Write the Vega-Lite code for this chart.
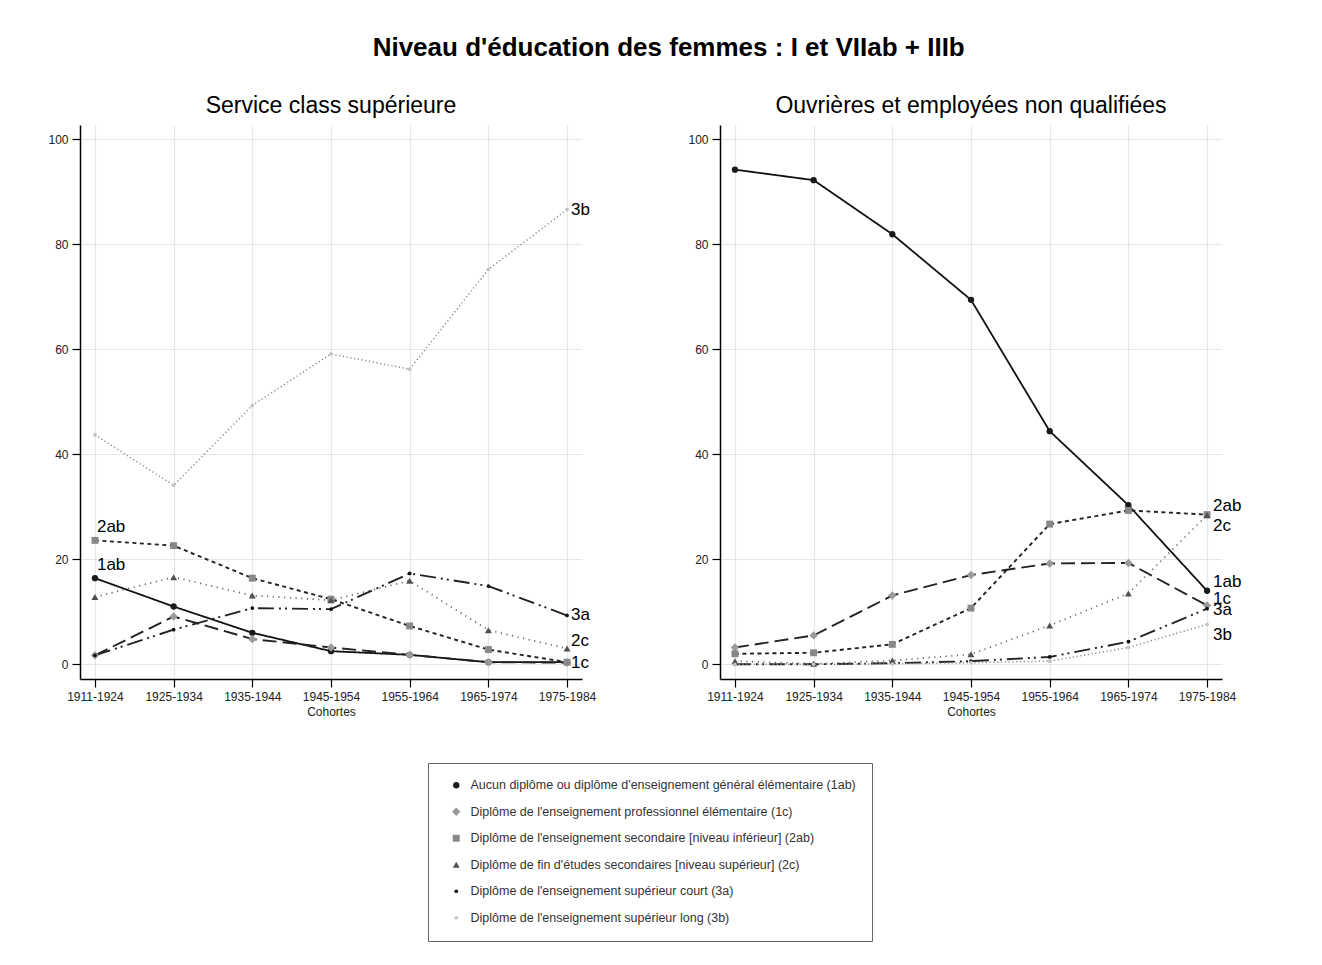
{
  "$schema": "https://vega.github.io/schema/vega-lite/v6.json",
  "autosize": {"type": "pad"},
  "padding": {"left": 47, "top": 35, "right": 10, "bottom": 10},
  "background": "#ffffff",
  "title": {"text": "Niveau d'éducation des femmes : I et VIIab + IIIb", "fontSize": 26, "font": "Liberation Sans", "fontWeight": "bold", "color": "#000", "anchor": "middle", "offset": 34, "dx": 24},
  "datasets": {
    "series": [
      {"code": "1ab", "name": "Aucun diplôme ou diplôme d'enseignement général élémentaire (1ab)"},
      {"code": "1c", "name": "Diplôme de l'enseignement professionnel élémentaire (1c)"},
      {"code": "2ab", "name": "Diplôme de l'enseignement secondaire [niveau inférieur] (2ab)"},
      {"code": "2c", "name": "Diplôme de fin d'études secondaires [niveau supérieur] (2c)"},
      {"code": "3a", "name": "Diplôme de l'enseignement supérieur court (3a)"},
      {"code": "3b", "name": "Diplôme de l'enseignement supérieur long (3b)"}
    ]
  },
  "data": {"values": [
    {"panel": "Service class supérieure", "code": "1ab", "cohort": "1911-1924", "value": 16.4},
    {"panel": "Service class supérieure", "code": "1ab", "cohort": "1925-1934", "value": 11.0},
    {"panel": "Service class supérieure", "code": "1ab", "cohort": "1935-1944", "value": 6.0},
    {"panel": "Service class supérieure", "code": "1ab", "cohort": "1945-1954", "value": 2.5},
    {"panel": "Service class supérieure", "code": "1ab", "cohort": "1955-1964", "value": 1.8},
    {"panel": "Service class supérieure", "code": "1ab", "cohort": "1965-1974", "value": 0.4},
    {"panel": "Service class supérieure", "code": "1ab", "cohort": "1975-1984", "value": 0.4},
    {"panel": "Service class supérieure", "code": "1c", "cohort": "1911-1924", "value": 1.7},
    {"panel": "Service class supérieure", "code": "1c", "cohort": "1925-1934", "value": 9.1},
    {"panel": "Service class supérieure", "code": "1c", "cohort": "1935-1944", "value": 4.8},
    {"panel": "Service class supérieure", "code": "1c", "cohort": "1945-1954", "value": 3.2},
    {"panel": "Service class supérieure", "code": "1c", "cohort": "1955-1964", "value": 1.8},
    {"panel": "Service class supérieure", "code": "1c", "cohort": "1965-1974", "value": 0.4},
    {"panel": "Service class supérieure", "code": "1c", "cohort": "1975-1984", "value": 0.3},
    {"panel": "Service class supérieure", "code": "2ab", "cohort": "1911-1924", "value": 23.6},
    {"panel": "Service class supérieure", "code": "2ab", "cohort": "1925-1934", "value": 22.6},
    {"panel": "Service class supérieure", "code": "2ab", "cohort": "1935-1944", "value": 16.4},
    {"panel": "Service class supérieure", "code": "2ab", "cohort": "1945-1954", "value": 12.4},
    {"panel": "Service class supérieure", "code": "2ab", "cohort": "1955-1964", "value": 7.3},
    {"panel": "Service class supérieure", "code": "2ab", "cohort": "1965-1974", "value": 2.8},
    {"panel": "Service class supérieure", "code": "2ab", "cohort": "1975-1984", "value": 0.4},
    {"panel": "Service class supérieure", "code": "2c", "cohort": "1911-1924", "value": 12.8},
    {"panel": "Service class supérieure", "code": "2c", "cohort": "1925-1934", "value": 16.6},
    {"panel": "Service class supérieure", "code": "2c", "cohort": "1935-1944", "value": 13.1},
    {"panel": "Service class supérieure", "code": "2c", "cohort": "1945-1954", "value": 12.2},
    {"panel": "Service class supérieure", "code": "2c", "cohort": "1955-1964", "value": 15.9},
    {"panel": "Service class supérieure", "code": "2c", "cohort": "1965-1974", "value": 6.5},
    {"panel": "Service class supérieure", "code": "2c", "cohort": "1975-1984", "value": 3.0},
    {"panel": "Service class supérieure", "code": "3a", "cohort": "1911-1924", "value": 1.7},
    {"panel": "Service class supérieure", "code": "3a", "cohort": "1925-1934", "value": 6.6},
    {"panel": "Service class supérieure", "code": "3a", "cohort": "1935-1944", "value": 10.7},
    {"panel": "Service class supérieure", "code": "3a", "cohort": "1945-1954", "value": 10.5},
    {"panel": "Service class supérieure", "code": "3a", "cohort": "1955-1964", "value": 17.3},
    {"panel": "Service class supérieure", "code": "3a", "cohort": "1965-1974", "value": 14.9},
    {"panel": "Service class supérieure", "code": "3a", "cohort": "1975-1984", "value": 9.3},
    {"panel": "Service class supérieure", "code": "3b", "cohort": "1911-1924", "value": 43.7},
    {"panel": "Service class supérieure", "code": "3b", "cohort": "1925-1934", "value": 34.1},
    {"panel": "Service class supérieure", "code": "3b", "cohort": "1935-1944", "value": 49.3},
    {"panel": "Service class supérieure", "code": "3b", "cohort": "1945-1954", "value": 59.1},
    {"panel": "Service class supérieure", "code": "3b", "cohort": "1955-1964", "value": 56.2},
    {"panel": "Service class supérieure", "code": "3b", "cohort": "1965-1974", "value": 75.2},
    {"panel": "Service class supérieure", "code": "3b", "cohort": "1975-1984", "value": 86.6},
    {"panel": "Ouvrières et employées non qualifiées", "code": "1ab", "cohort": "1911-1924", "value": 94.2},
    {"panel": "Ouvrières et employées non qualifiées", "code": "1ab", "cohort": "1925-1934", "value": 92.2},
    {"panel": "Ouvrières et employées non qualifiées", "code": "1ab", "cohort": "1935-1944", "value": 81.9},
    {"panel": "Ouvrières et employées non qualifiées", "code": "1ab", "cohort": "1945-1954", "value": 69.4},
    {"panel": "Ouvrières et employées non qualifiées", "code": "1ab", "cohort": "1955-1964", "value": 44.4},
    {"panel": "Ouvrières et employées non qualifiées", "code": "1ab", "cohort": "1965-1974", "value": 30.3},
    {"panel": "Ouvrières et employées non qualifiées", "code": "1ab", "cohort": "1975-1984", "value": 14.0},
    {"panel": "Ouvrières et employées non qualifiées", "code": "1c", "cohort": "1911-1924", "value": 3.2},
    {"panel": "Ouvrières et employées non qualifiées", "code": "1c", "cohort": "1925-1934", "value": 5.5},
    {"panel": "Ouvrières et employées non qualifiées", "code": "1c", "cohort": "1935-1944", "value": 13.1},
    {"panel": "Ouvrières et employées non qualifiées", "code": "1c", "cohort": "1945-1954", "value": 17.0},
    {"panel": "Ouvrières et employées non qualifiées", "code": "1c", "cohort": "1955-1964", "value": 19.2},
    {"panel": "Ouvrières et employées non qualifiées", "code": "1c", "cohort": "1965-1974", "value": 19.3},
    {"panel": "Ouvrières et employées non qualifiées", "code": "1c", "cohort": "1975-1984", "value": 11.2},
    {"panel": "Ouvrières et employées non qualifiées", "code": "2ab", "cohort": "1911-1924", "value": 2.0},
    {"panel": "Ouvrières et employées non qualifiées", "code": "2ab", "cohort": "1925-1934", "value": 2.2},
    {"panel": "Ouvrières et employées non qualifiées", "code": "2ab", "cohort": "1935-1944", "value": 3.8},
    {"panel": "Ouvrières et employées non qualifiées", "code": "2ab", "cohort": "1945-1954", "value": 10.7},
    {"panel": "Ouvrières et employées non qualifiées", "code": "2ab", "cohort": "1955-1964", "value": 26.7},
    {"panel": "Ouvrières et employées non qualifiées", "code": "2ab", "cohort": "1965-1974", "value": 29.3},
    {"panel": "Ouvrières et employées non qualifiées", "code": "2ab", "cohort": "1975-1984", "value": 28.5},
    {"panel": "Ouvrières et employées non qualifiées", "code": "2c", "cohort": "1911-1924", "value": 0.6},
    {"panel": "Ouvrières et employées non qualifiées", "code": "2c", "cohort": "1925-1934", "value": 0.1},
    {"panel": "Ouvrières et employées non qualifiées", "code": "2c", "cohort": "1935-1944", "value": 0.7},
    {"panel": "Ouvrières et employées non qualifiées", "code": "2c", "cohort": "1945-1954", "value": 1.9},
    {"panel": "Ouvrières et employées non qualifiées", "code": "2c", "cohort": "1955-1964", "value": 7.4},
    {"panel": "Ouvrières et employées non qualifiées", "code": "2c", "cohort": "1965-1974", "value": 13.5},
    {"panel": "Ouvrières et employées non qualifiées", "code": "2c", "cohort": "1975-1984", "value": 28.4},
    {"panel": "Ouvrières et employées non qualifiées", "code": "3a", "cohort": "1911-1924", "value": 0.0},
    {"panel": "Ouvrières et employées non qualifiées", "code": "3a", "cohort": "1925-1934", "value": 0.0},
    {"panel": "Ouvrières et employées non qualifiées", "code": "3a", "cohort": "1935-1944", "value": 0.2},
    {"panel": "Ouvrières et employées non qualifiées", "code": "3a", "cohort": "1945-1954", "value": 0.6},
    {"panel": "Ouvrières et employées non qualifiées", "code": "3a", "cohort": "1955-1964", "value": 1.4},
    {"panel": "Ouvrières et employées non qualifiées", "code": "3a", "cohort": "1965-1974", "value": 4.3},
    {"panel": "Ouvrières et employées non qualifiées", "code": "3a", "cohort": "1975-1984", "value": 10.6},
    {"panel": "Ouvrières et employées non qualifiées", "code": "3b", "cohort": "1911-1924", "value": 0.0},
    {"panel": "Ouvrières et employées non qualifiées", "code": "3b", "cohort": "1925-1934", "value": 0.0},
    {"panel": "Ouvrières et employées non qualifiées", "code": "3b", "cohort": "1935-1944", "value": 0.1},
    {"panel": "Ouvrières et employées non qualifiées", "code": "3b", "cohort": "1945-1954", "value": 0.3},
    {"panel": "Ouvrières et employées non qualifiées", "code": "3b", "cohort": "1955-1964", "value": 0.6},
    {"panel": "Ouvrières et employées non qualifiées", "code": "3b", "cohort": "1965-1974", "value": 3.2},
    {"panel": "Ouvrières et employées non qualifiées", "code": "3b", "cohort": "1975-1984", "value": 7.6}
  ]},
  "transform": [
    {"lookup": "code", "from": {"data": {"name": "series"}, "key": "code", "fields": ["name"]}}
  ],
  "facet": {
    "column": {
      "field": "panel", "type": "nominal",
      "sort": ["Service class supérieure", "Ouvrières et employées non qualifiées"],
      "header": {"title": null, "labelFontSize": 23, "labelFont": "Liberation Sans", "labelColor": "#000", "labelPadding": 7}
    }
  },
  "spacing": 85,
  "resolve": {"axis": {"y": "independent", "x": "independent"}},
  "spec": {
    "width": 502,
    "height": 554,
    "encoding": {
      "x": {"field": "cohort", "type": "ordinal", "scale": {"type": "point", "padding": 0.19},
        "axis": {"title": "Cohortes", "labelAngle": 0, "grid": true}},
      "y": {"field": "value", "type": "quantitative", "scale": {"domain": [-2.8, 102.7], "nice": false, "zero": false},
        "axis": {"title": null, "values": [0, 20, 40, 60, 80, 100], "grid": true}}
    },
    "layer": [
      {
        "mark": {"type": "line"},
        "encoding": {
          "stroke": {"field": "code", "type": "nominal", "legend": null,
            "scale": {"domain": ["1ab", "1c", "2ab", "2c", "3a", "3b"],
              "range": ["#111111", "#222222", "#222222", "#666666", "#222222", "#8a8a8a"]}},
          "strokeDash": {"field": "code", "type": "nominal", "legend": null,
            "scale": {"domain": ["1ab", "1c", "2ab", "2c", "3a", "3b"],
              "range": [[1, 0], [14, 6], [4, 3.5], [1.2, 4.5], [16, 5, 2, 4, 2, 5], [1.2, 2.6]]}},
          "strokeWidth": {"field": "code", "type": "nominal", "legend": null,
            "scale": {"type": "ordinal", "domain": ["1ab", "1c", "2ab", "2c", "3a", "3b"],
              "range": [1.8, 1.9, 1.9, 1.7, 1.9, 1.5]}}
        }
      },
      {
        "mark": {"type": "point", "filled": true, "opacity": 1},
        "encoding": {
          "fill": {"field": "name", "type": "nominal",
            "scale": {"domain": [
              "Aucun diplôme ou diplôme d'enseignement général élémentaire (1ab)",
              "Diplôme de l'enseignement professionnel élémentaire (1c)",
              "Diplôme de l'enseignement secondaire [niveau inférieur] (2ab)",
              "Diplôme de fin d'études secondaires [niveau supérieur] (2c)",
              "Diplôme de l'enseignement supérieur court (3a)",
              "Diplôme de l'enseignement supérieur long (3b)"],
              "range": ["#1a1a1a", "#9a9a9a", "#888888", "#505050", "#111111", "#c4c4c4"]},
            "legend": {"title": null, "orient": "none", "legendX": 348, "legendY": 638, "direction": "vertical",
              "strokeColor": "#666", "fillColor": "#ffffff", "padding": 16,
              "labelFont": "Liberation Sans", "labelFontSize": 12.5, "labelColor": "#333", "labelLimit": 600,
              "rowPadding": 13.5, "symbolOffset": 6, "labelOffset": 8, "symbolStrokeWidth": 0}},
          "shape": {"field": "name", "type": "nominal",
            "scale": {"domain": [
              "Aucun diplôme ou diplôme d'enseignement général élémentaire (1ab)",
              "Diplôme de l'enseignement professionnel élémentaire (1c)",
              "Diplôme de l'enseignement secondaire [niveau inférieur] (2ab)",
              "Diplôme de fin d'études secondaires [niveau supérieur] (2c)",
              "Diplôme de l'enseignement supérieur court (3a)",
              "Diplôme de l'enseignement supérieur long (3b)"],
              "range": ["circle", "diamond", "square", "triangle-up", "circle", "circle"]},
            "legend": {"title": null, "orient": "none", "legendX": 348, "legendY": 638}},
          "size": {"field": "name", "type": "nominal",
            "scale": {"type": "ordinal", "domain": [
              "Aucun diplôme ou diplôme d'enseignement général élémentaire (1ab)",
              "Diplôme de l'enseignement professionnel élémentaire (1c)",
              "Diplôme de l'enseignement secondaire [niveau inférieur] (2ab)",
              "Diplôme de fin d'études secondaires [niveau supérieur] (2c)",
              "Diplôme de l'enseignement supérieur court (3a)",
              "Diplôme de l'enseignement supérieur long (3b)"],
              "range": [40, 70, 48, 48, 14, 14]},
            "legend": {"title": null, "orient": "none", "legendX": 348, "legendY": 638}}
        }
      },
      {
        "transform": [{"filter": "datum.panel == 'Service class supérieure' && datum.cohort == '1911-1924' && (datum.code == '1ab' || datum.code == '2ab')"}],
        "mark": {"type": "text", "align": "left", "baseline": "middle", "dx": 2, "dy": -13, "fontSize": 17, "font": "Liberation Sans", "color": "#000"},
        "encoding": {"text": {"field": "code"}}
      },
      {
        "transform": [{"filter": "datum.panel == 'Service class supérieure' && datum.cohort == '1975-1984' && (datum.code == '3b' || datum.code == '3a' || datum.code == '1c')"}],
        "mark": {"type": "text", "align": "left", "baseline": "middle", "dx": 4, "dy": 0, "fontSize": 17, "font": "Liberation Sans", "color": "#000"},
        "encoding": {"text": {"field": "code"}}
      },
      {
        "transform": [{"filter": "datum.panel == 'Service class supérieure' && datum.cohort == '1975-1984' && datum.code == '2c'"}],
        "mark": {"type": "text", "align": "left", "baseline": "middle", "dx": 4, "dy": -8, "fontSize": 17, "font": "Liberation Sans", "color": "#000"},
        "encoding": {"text": {"field": "code"}}
      },
      {
        "transform": [{"filter": "datum.panel != 'Service class supérieure' && datum.cohort == '1975-1984' && (datum.code == '2ab' || datum.code == '1ab')"}],
        "mark": {"type": "text", "align": "left", "baseline": "middle", "dx": 6, "dy": -9, "fontSize": 17, "font": "Liberation Sans", "color": "#000"},
        "encoding": {"text": {"field": "code"}}
      },
      {
        "transform": [{"filter": "datum.panel != 'Service class supérieure' && datum.cohort == '1975-1984' && (datum.code == '2c' || datum.code == '3b')"}],
        "mark": {"type": "text", "align": "left", "baseline": "middle", "dx": 6, "dy": 11, "fontSize": 17, "font": "Liberation Sans", "color": "#000"},
        "encoding": {"text": {"field": "code"}}
      },
      {
        "transform": [{"filter": "datum.panel != 'Service class supérieure' && datum.cohort == '1975-1984' && datum.code == '1c'"}],
        "mark": {"type": "text", "align": "left", "baseline": "middle", "dx": 6, "dy": -6, "fontSize": 17, "font": "Liberation Sans", "color": "#000"},
        "encoding": {"text": {"field": "code"}}
      },
      {
        "transform": [{"filter": "datum.panel != 'Service class supérieure' && datum.cohort == '1975-1984' && datum.code == '3a'"}],
        "mark": {"type": "text", "align": "left", "baseline": "middle", "dx": 6, "dy": 1, "fontSize": 17, "font": "Liberation Sans", "color": "#000"},
        "encoding": {"text": {"field": "code"}}
      }
    ]
  },
  "config": {
    "font": "Liberation Sans",
    "view": {"stroke": null},
    "axis": {
      "domainColor": "#000", "domainWidth": 1.5, "tickColor": "#000", "tickWidth": 1.2, "tickSize": 8,
      "labelFont": "Liberation Sans", "labelFontSize": 12, "labelColor": "#222", "labelPadding": 4,
      "titleFont": "Liberation Sans", "titleFontSize": 12, "titleFontWeight": "normal", "titleColor": "#222", "titlePadding": 4,
      "gridColor": "#e6e6e6", "gridWidth": 1.2
    }
  }
}
